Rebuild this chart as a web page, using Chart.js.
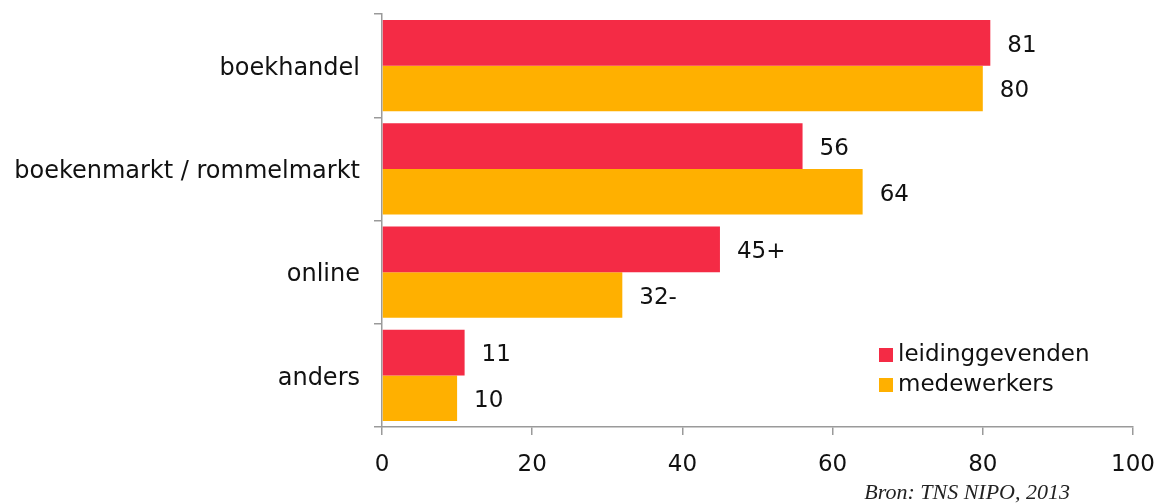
<!DOCTYPE html>
<html>
<head>
<meta charset="utf-8">
<script src="https://cdn.jsdelivr.net/npm/chart.js@4"></script>
<style>
    html, body { margin: 0; padding: 0; background: #ffffff; }
    #wrap { position: relative; width: 1160px; height: 504px; }
    #bron {
        position: absolute; right: 90px; top: 479px;
        font-family: "Liberation Serif", serif; font-style: italic;
        font-size: 22px; color: #222222; white-space: nowrap;
    }
</style>
</head>
<body>
<div id="wrap">
    <canvas id="chart" width="1160" height="504"></canvas>
    <div id="bron">Bron: TNS NIPO, 2013</div>
</div>
<script>
// data
const categories     = ["boekhandel", "boekenmarkt / rommelmarkt", "online", "anders"];
const leidinggevend  = [81, 56, 45, 11];
const medewerkers    = [80, 64, 32, 10];
const leidingSuffix  = ["", "", "+", ""];
const medewerkSuffix = ["", "", "-", ""];
const xTicks         = [0, 20, 40, 60, 80, 100];

const COLORS = {
    red:    "#F42B45",
    orange: "#FFB000",
    axis:   "#9A9A9A",
    text:   "#111111",
};

const FONT = "'DejaVu Sans', Verdana, sans-serif";

// value labels to the right of each bar
const valueLabels = {
    id: "valueLabels",
    afterDatasetsDraw(chart) {
        const ctx = chart.ctx;
        const suffixes = [leidingSuffix, medewerkSuffix];
        ctx.save();
        ctx.font = "23px " + FONT;
        ctx.fillStyle = COLORS.text;
        ctx.textBaseline = "middle";
        ctx.textAlign = "left";
        chart.data.datasets.forEach((ds, i) => {
            chart.getDatasetMeta(i).data.forEach((bar, j) => {
                ctx.fillText(ds.data[j] + suffixes[i][j], bar.x + 17, bar.y + 3);
            });
        });
        ctx.restore();
    },
};

// legend sitting inside the plot, lower right
const innerLegend = {
    id: "innerLegend",
    afterDraw(chart) {
        const ctx = chart.ctx;
        ctx.save();
        ctx.font = "23px " + FONT;
        ctx.textBaseline = "middle";
        chart.data.datasets.forEach((ds, i) => {
            const y = 355 + i * 30;
            ctx.fillStyle = ds.backgroundColor;
            ctx.fillRect(879, y - 7, 14, 14);
            ctx.fillStyle = COLORS.text;
            ctx.fillText(ds.label, 898, y);
        });
        ctx.restore();
    },
};

new Chart(document.getElementById("chart"), {
    type: "bar",
    data: {
        labels: categories,
        datasets: [
            { label: "leidinggevenden", data: leidinggevend, backgroundColor: COLORS.red },
            { label: "medewerkers",     data: medewerkers,   backgroundColor: COLORS.orange },
        ],
    },
    options: {
        indexAxis: "y",
        responsive: false,
        animation: false,
        datasets: { bar: { categoryPercentage: 0.885, barPercentage: 1.0, borderWidth: 0 } },
        layout: { padding: { left: 0, top: 14, right: 27, bottom: 30 } },
        scales: {
            x: {
                min: 0, max: 100,
                afterBuildTicks: (scale) => { scale.ticks = xTicks.map(v => ({ value: v })); },
                afterFit: (scale) => {
                    scale.height = 504 - 427 - 30;
                    scale.paddingLeft = 0;
                    scale.paddingRight = 0;
                },
                grid:   { drawOnChartArea: false, tickLength: 8, color: COLORS.axis, lineWidth: 1.5 },
                border: { color: COLORS.axis, width: 1.5 },
                ticks:  { color: COLORS.text, padding: 16, font: { family: FONT, size: 23 } },
            },
            y: {
                afterFit: (scale) => {
                    scale.width = 382;
                    scale.paddingTop = 0;
                    scale.paddingBottom = 0;
                },
                grid:   { drawOnChartArea: false, offset: true, tickLength: 8, color: COLORS.axis, lineWidth: 1.5 },
                border: { color: COLORS.axis, width: 1.5 },
                ticks:  { color: COLORS.text, padding: 14, labelOffset: 3, font: { family: FONT, size: 24 } },
            },
        },
        plugins: {
            legend:  { display: false },
            tooltip: { enabled: false },
        },
    },
    plugins: [valueLabels, innerLegend],
});
</script>
</body>
</html>
